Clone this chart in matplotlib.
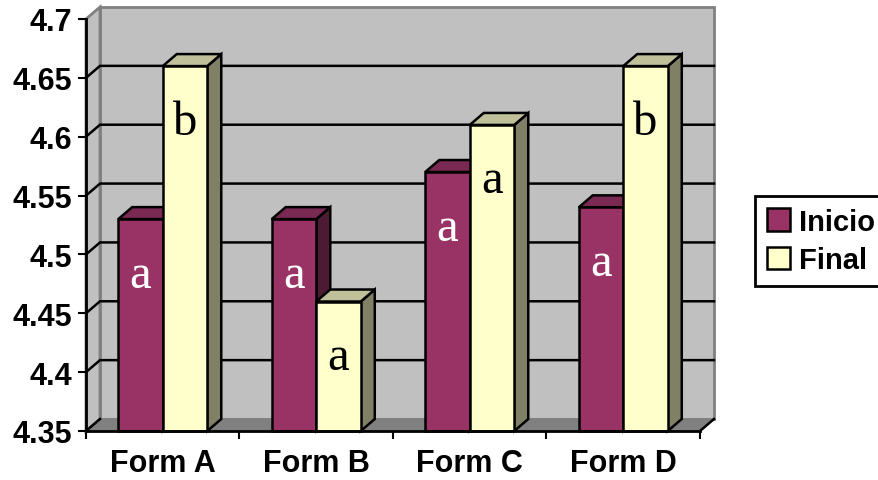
import matplotlib.pyplot as plt
from matplotlib.patches import Patch, Polygon

forms = ["Form A", "Form B", "Form C", "Form D"]
inicio = [4.53, 4.53, 4.57, 4.54]
final = [4.66, 4.46, 4.61, 4.66]
inicio_letters = ["a", "a", "a", "a"]
final_letters = ["b", "a", "a", "b"]
yticks = [4.35, 4.4, 4.45, 4.5, 4.55, 4.6, 4.65, 4.7]

Y0, Y1 = 4.35, 4.7
W, H = 879, 481
AX_L, AX_R, AX_T, AX_B = 86, 700, 20, 432  # front plane in pixels

# depth offset of the 3D look, converted to data units
DX = 14 * len(forms) / (AX_R - AX_L)
DY = 12 * (Y1 - Y0) / (AX_B - AX_T)
BAR_W = 0.29

C_INI = ("#993366", "#7a2952", "#4d1a33")   # front, top, side
C_FIN = ("#ffffcc", "#c0c09a", "#808066")

plt.rcParams["font.family"] = ["Liberation Sans", "DejaVu Sans"]

fig = plt.figure(figsize=(W / 100, H / 100), dpi=100)
ax = fig.add_axes([AX_L / W, 1 - AX_B / H, (AX_R - AX_L) / W, (AX_B - AX_T) / H])
ax.set_xlim(0, len(forms))
ax.set_ylim(Y0, Y1)
ax.patch.set_visible(False)


def poly(pts, fc, ec="black", lw=1.8, z=1):
    ax.add_patch(Polygon(pts, closed=True, facecolor=fc, edgecolor=ec,
                         linewidth=lw, zorder=z, clip_on=False,
                         joinstyle="miter"))


n = len(forms)
# walls and floor
poly([(DX, Y0 + DY), (n + DX, Y0 + DY), (n + DX, Y1 + DY), (DX, Y1 + DY)],
     "#c0c0c0", "#808080", 2, 0)
poly([(0, Y0), (DX, Y0 + DY), (DX, Y1 + DY), (0, Y1)], "#c0c0c0", "#808080", 2, 0)
poly([(0, Y0), (n, Y0), (n + DX, Y0 + DY), (DX, Y0 + DY)], "#808080", "#808080", 1, 0)

# gridlines running along the side wall and the back wall
for v in yticks[1:-1]:
    ax.plot([0, DX, n + DX], [v, v + DY, v + DY], color="black", lw=1.8,
            zorder=0.5, clip_on=False, solid_joinstyle="miter")
ax.plot([0, DX], [Y0, Y0 + DY], color="black", lw=1.8, zorder=0.5, clip_on=False)
ax.plot([n, n + DX], [Y0, Y0 + DY], color="black", lw=1.8, zorder=5, clip_on=False)


def bar3d(x0, x1, v, colors, z):
    front, top, side = colors
    poly([(x1, Y0), (x1 + DX, Y0 + DY), (x1 + DX, v + DY), (x1, v)], side, z=z)
    poly([(x0, v), (x0 + DX, v + DY), (x1 + DX, v + DY), (x1, v)], top, z=z)
    poly([(x0, Y0), (x1, Y0), (x1, v), (x0, v)], front, z=z)


for i in range(n):
    c = i + 0.5
    bar3d(c - BAR_W, c, inicio[i], C_INI, 2 + i)
    bar3d(c, c + BAR_W, final[i], C_FIN, 2.5 + i)
    ax.annotate(inicio_letters[i], (c - BAR_W / 2, inicio[i]), xytext=(0, -40),
                textcoords="offset points", ha="center", va="center",
                fontsize=35, family="Liberation Serif", color="white", zorder=10)
    ax.annotate(final_letters[i], (c + BAR_W / 2, final[i]), xytext=(0, -40),
                textcoords="offset points", ha="center", va="center",
                fontsize=35, family="Liberation Serif", color="black", zorder=10)

for s in ("top", "right"):
    ax.spines[s].set_visible(False)
for s in ("left", "bottom"):
    ax.spines[s].set_linewidth(2)
    ax.spines[s].set_zorder(6)

ax.set_yticks(yticks)
ax.set_yticklabels([f"{t:g}" for t in yticks], fontsize=22, fontweight="bold")
ax.tick_params(axis="y", length=6, width=1.5, pad=4)

ax.set_xticks([i + 0.5 for i in range(n)])
ax.set_xticklabels(forms, fontsize=22, fontweight="bold")
ax.set_xticks(range(n + 1), minor=True)
ax.tick_params(axis="x", which="major", length=0, pad=12)
ax.tick_params(axis="x", which="minor", length=6, width=1.5)

handles = [Patch(facecolor=C_INI[0], edgecolor="black", linewidth=1.8, label="Inicio"),
           Patch(facecolor=C_FIN[0], edgecolor="black", linewidth=1.8, label="Final")]
leg = fig.legend(handles=handles, loc="upper left",
                 bbox_to_anchor=(755 / W, 1 - 197 / H),
                 prop={"size": 21, "weight": "bold"}, fancybox=False,
                 edgecolor="black", framealpha=1, borderpad=0.4,
                 handlelength=0.8, handleheight=0.8, handletextpad=0.3,
                 labelspacing=0.35, borderaxespad=0)
leg.get_frame().set_linewidth(2)

fig.savefig("out.png", dpi=100)
